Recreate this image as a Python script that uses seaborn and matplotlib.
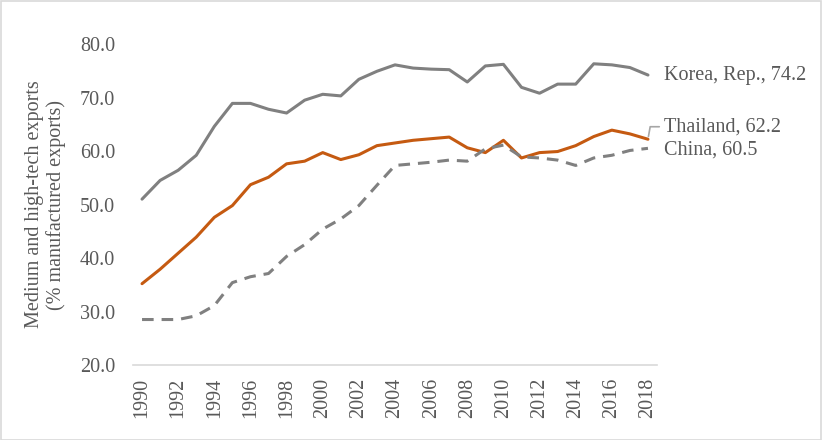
import numpy as np
import pandas as pd
import matplotlib
matplotlib.use("Agg")
import matplotlib.pyplot as plt
import seaborn as sns

# data
years = list(range(1990, 2019))
korea = [51.0, 54.5, 56.4, 59.2, 64.6, 68.9, 68.9, 67.8, 67.1, 69.5, 70.6, 70.3, 73.4, 74.9, 76.1,
         75.5, 75.3, 75.2, 72.9, 75.9, 76.2, 71.9, 70.8, 72.5, 72.5, 76.3, 76.1, 75.6, 74.2]
thailand = [35.2, 37.9, 40.9, 43.9, 47.6, 49.8, 53.7, 55.1, 57.6, 58.1, 59.7, 58.4, 59.3, 61.0, 61.5,
            62.0, 62.3, 62.6, 60.6, 59.7, 62.0, 58.7, 59.7, 59.9, 61.0, 62.7, 63.9, 63.2, 62.2]
china = [28.5, 28.5, 28.5, 29.2, 31.1, 35.4, 36.5, 37.1, 40.3, 42.5, 45.4, 47.3, 49.8, 53.6, 57.3,
         57.6, 57.9, 58.3, 58.1, 60.4, 61.1, 58.9, 58.7, 58.3, 57.3, 58.7, 59.2, 60.1, 60.5]
countries = ["Korea, Rep.", "Thailand", "China"]

df = pd.DataFrame({
    "Year": years * 3,
    "Value": korea + thailand + china,
    "Country": [c for c in countries for _ in years],
})

sns.set_theme(style="white")
plt.rcParams["font.family"] = ["Liberation Serif", "DejaVu Serif"]
text_col = "#595959"
fs = 14.5

fig = plt.figure(figsize=(8.23, 4.40), dpi=100)
ax = fig.add_axes([133 / 823, 1 - 365 / 440, (657 - 133) / 823, (365 - 44) / 440])

palette = {"Korea, Rep.": "#808080", "Thailand": "#C55A11", "China": "#808080"}
dashes = {"Korea, Rep.": "", "Thailand": "", "China": (3.8, 2.6)}
sns.lineplot(data=df, x="Year", y="Value", hue="Country", style="Country",
             palette=palette, dashes=dashes, linewidth=2.2, legend=False, ax=ax)

ax.set_xlim(1989.5, 2018.5)
ax.set_ylim(20, 80)
ax.set_xticks(years[::2])
ax.set_xticklabels([str(y) for y in years[::2]], rotation=90)
ax.set_yticks(np.arange(20, 81, 10))
ax.set_yticklabels([f"{v:.1f}" for v in np.arange(20, 81, 10)])
ax.tick_params(axis="both", length=0, labelsize=fs, colors=text_col)
ax.tick_params(axis="x", pad=9)
ax.tick_params(axis="y", pad=13)
ax.set_xlabel("")
ax.set_ylabel("Medium and high-tech exports\n(% manufactured exports)",
              fontsize=fs, color=text_col, labelpad=10, linespacing=1.15)

for s in ["top", "right", "left"]:
    ax.spines[s].set_visible(False)
ax.spines["bottom"].set_color("#d9d9d9")
ax.spines["bottom"].set_linewidth(1.2)

# end labels
ax.annotate(f"Korea, Rep., {korea[-1]:.1f}", xy=(years[-1], korea[-1]), xytext=(11.5, 0),
            textcoords="offset points", va="center", ha="left", fontsize=fs,
            color=text_col, annotation_clip=False)
ax.annotate(f"Thailand, {thailand[-1]:.1f}", xy=(years[-1], thailand[-1]), xytext=(11.5, 9),
            textcoords="offset points", va="center", ha="left", fontsize=fs,
            color=text_col, annotation_clip=False,
            arrowprops=dict(arrowstyle="-", color="#a6a6a6", lw=1.2, shrinkA=1, shrinkB=2,
                            connectionstyle="angle,angleA=0,angleB=80,rad=0"))
ax.annotate(f"China, {china[-1]:.1f}", xy=(years[-1], china[-1]), xytext=(11.5, -1),
            textcoords="offset points", va="center", ha="left", fontsize=fs,
            color=text_col, annotation_clip=False)

# chart border
fig.add_artist(plt.Rectangle((0.001, 0.001), 0.997, 0.996, transform=fig.transFigure,
                             fill=False, edgecolor="#d9d9d9", linewidth=1.2))

fig.savefig("out.png", dpi=100)
